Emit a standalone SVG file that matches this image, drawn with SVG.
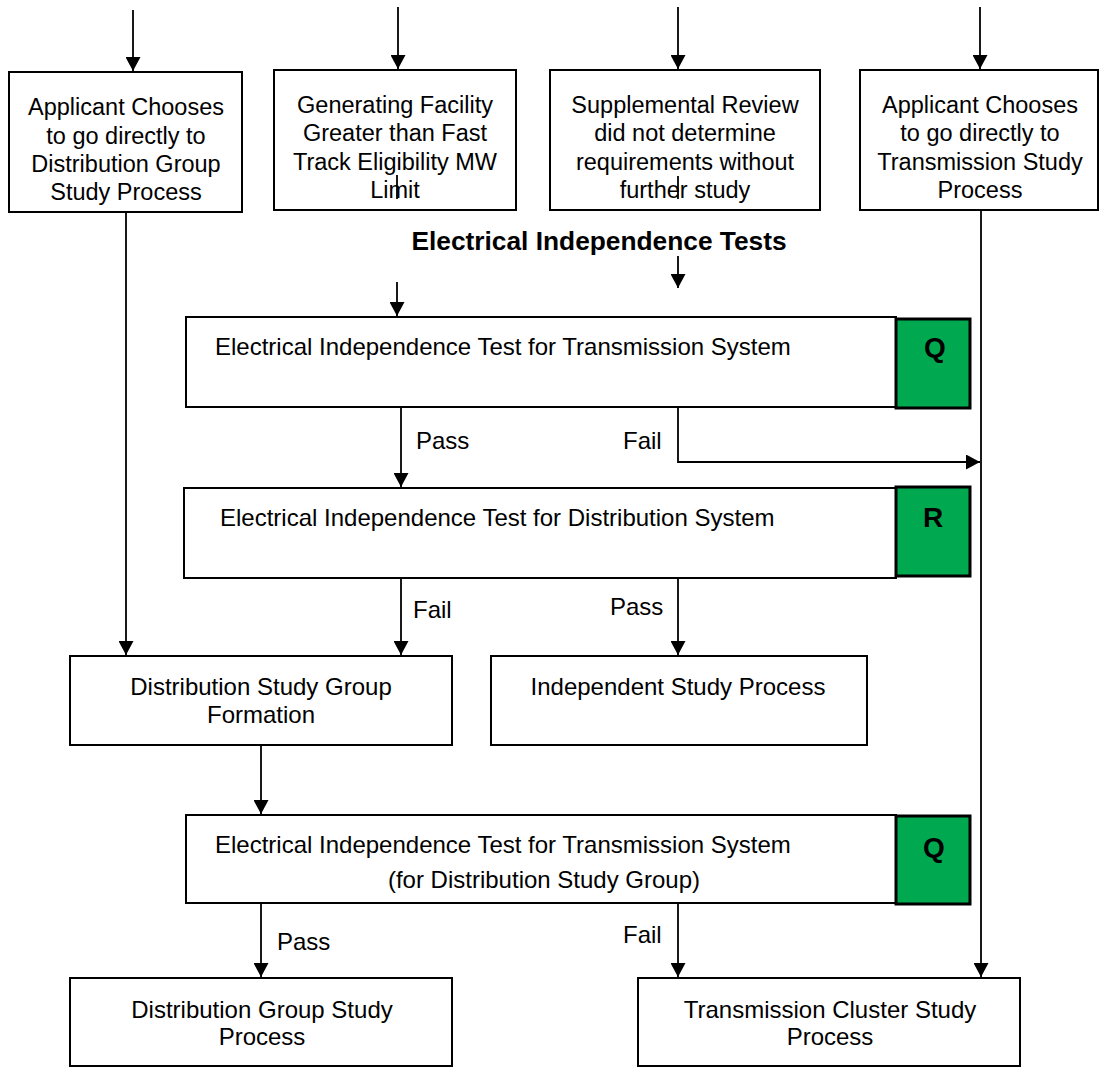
<svg xmlns="http://www.w3.org/2000/svg" width="1100" height="1068" viewBox="0 0 1100 1068">
<style>
  .box { fill: #ffffff; stroke: #000000; stroke-width: 2; }
  .tag { fill: #00A84F; stroke: #000000; stroke-width: 3; }
  .t { font-family: "Liberation Sans", Arial, sans-serif; font-size: 24px; fill: #000000; }
  .s { font-size: 23.5px; }
  .c { text-anchor: middle; }
  .b { font-weight: bold; }
  .qr { font-weight: bold; font-size: 28px; text-anchor: middle; }
  .ln { fill: none; stroke: #000000; stroke-width: 1.8; }
  .arr { marker-end: url(#ah); }
</style>
<defs>
  <marker id="ah" markerUnits="userSpaceOnUse" markerWidth="15" markerHeight="15" refX="14" refY="7.5" orient="auto">
    <path d="M0,0 L14,7.5 L0,15 z" fill="#000000"/>
  </marker>
</defs>
<rect width="1100" height="1068" fill="#ffffff"/>

<g id="n-applicant-dist">
  <rect class="box" x="9" y="72" width="233" height="140"/>
  <text class="t s c" x="126" y="115">Applicant Chooses</text>
  <text class="t s c" x="126" y="144">to go directly to</text>
  <text class="t s c" x="126" y="172">Distribution Group</text>
  <text class="t s c" x="126" y="200">Study Process</text>
</g>

<g id="n-generating">
  <rect class="box" x="274" y="70" width="242" height="140"/>
  <text class="t s c" x="395" y="113">Generating Facility</text>
  <text class="t s c" x="395" y="141">Greater than Fast</text>
  <text class="t s c" x="395" y="170">Track Eligibility MW</text>
  <text class="t s c" x="395" y="198">Limit</text>
</g>

<g id="n-supplemental">
  <rect class="box" x="550" y="70" width="270" height="140"/>
  <text class="t s c" x="685" y="113">Supplemental Review</text>
  <text class="t s c" x="685" y="141">did not determine</text>
  <text class="t s c" x="685" y="170">requirements without</text>
  <text class="t s c" x="685" y="198">further study</text>
</g>

<g id="n-applicant-trans">
  <rect class="box" x="860" y="70" width="238" height="140"/>
  <text class="t s c" x="980" y="113">Applicant Chooses</text>
  <text class="t s c" x="980" y="141">to go directly to</text>
  <text class="t s c" x="980" y="170">Transmission Study</text>
  <text class="t s c" x="980" y="198">Process</text>
</g>

<g id="title">
  <text class="t c b" x="599" y="250" style="font-size:26.3px">Electrical Independence Tests</text>
</g>

<g id="n-eit-trans">
  <rect class="box" x="186" y="317" width="710" height="90"/>
  <rect class="tag" x="896" y="319" width="74" height="89"/>
  <text class="t" x="215" y="355">Electrical Independence Test for Transmission System</text>
  <text class="t qr" x="935" y="357">Q</text>
</g>

<g id="n-eit-dist">
  <rect class="box" x="184" y="488" width="712" height="90"/>
  <rect class="tag" x="896" y="487" width="74" height="89"/>
  <text class="t" x="220" y="526">Electrical Independence Test for Distribution System</text>
  <text class="t qr" x="933" y="527">R</text>
</g>

<g id="n-dsg-formation">
  <rect class="box" x="70" y="656" width="382" height="89"/>
  <text class="t c" x="261" y="695">Distribution Study Group</text>
  <text class="t c" x="261" y="723">Formation</text>
</g>

<g id="n-independent">
  <rect class="box" x="491" y="656" width="376" height="89"/>
  <text class="t c" x="678" y="695">Independent Study Process</text>
</g>

<g id="n-eit-trans-group">
  <rect class="box" x="186" y="815" width="710" height="88"/>
  <rect class="tag" x="896" y="816" width="74" height="88"/>
  <text class="t" x="215" y="853">Electrical Independence Test for Transmission System</text>
  <text class="t c" x="544" y="888">(for Distribution Study Group)</text>
  <text class="t qr" x="934" y="857">Q</text>
</g>

<g id="n-dgsp">
  <rect class="box" x="70" y="978" width="382" height="88"/>
  <text class="t c" x="262" y="1018">Distribution Group Study</text>
  <text class="t c" x="262" y="1045">Process</text>
</g>

<g id="n-tcsp">
  <rect class="box" x="638" y="978" width="382" height="88"/>
  <text class="t c" x="830" y="1018">Transmission Cluster Study</text>
  <text class="t c" x="830" y="1045">Process</text>
</g>

<g id="connectors">
  <line class="ln arr" x1="133" y1="10" x2="133" y2="71"/>
  <line class="ln arr" x1="398" y1="7" x2="398" y2="69"/>
  <line class="ln arr" x1="678" y1="7" x2="678" y2="69"/>
  <line class="ln arr" x1="980" y1="7" x2="980" y2="69"/>
  <line class="ln arr" x1="678" y1="256" x2="678" y2="288"/>
  <line class="ln arr" x1="397" y1="282" x2="397" y2="316"/>
  <line class="ln arr" x1="126" y1="213" x2="126" y2="655"/>
  <line class="ln arr" x1="981" y1="211" x2="981" y2="977"/>
  <line class="ln arr" x1="401" y1="408" x2="401" y2="487"/>
  <polyline class="ln arr" points="678,408 678,462 980,462"/>
  <line class="ln arr" x1="401" y1="579" x2="401" y2="655"/>
  <line class="ln arr" x1="678" y1="579" x2="678" y2="655"/>
  <line class="ln arr" x1="261" y1="746" x2="261" y2="814"/>
  <line class="ln arr" x1="261" y1="904" x2="261" y2="977"/>
  <line class="ln arr" x1="678" y1="904" x2="678" y2="977"/>
  <line class="ln" x1="397" y1="175" x2="397" y2="199"/>
  <line class="ln" x1="678" y1="176" x2="678" y2="199"/>
  <text class="t" x="416" y="449">Pass</text>
  <text class="t" x="623" y="449">Fail</text>
  <text class="t" x="413" y="618">Fail</text>
  <text class="t" x="610" y="615">Pass</text>
  <text class="t" x="277" y="950">Pass</text>
  <text class="t" x="623" y="943">Fail</text>
</g>
</svg>
